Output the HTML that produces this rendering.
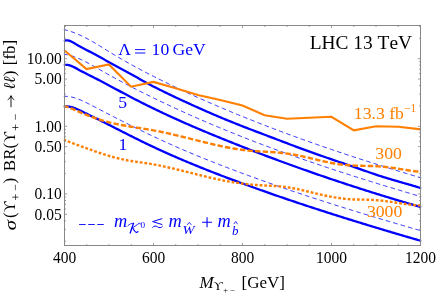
<!DOCTYPE html>
<html><head><meta charset="utf-8"><title>plot</title>
<style>html,body{margin:0;padding:0;background:#fff;}body{width:436px;height:294px;position:relative;overflow:hidden;font-family:"Liberation Serif",serif;}</style>
</head><body>
<svg width="436" height="294" viewBox="0 0 436 294" style="position:absolute;left:0;top:0;will-change:transform">
<rect width="436" height="294" fill="#fff"/>
<defs><clipPath id="c"><rect x="63.7" y="25.0" width="357.6" height="221.0"/></clipPath></defs>
<g clip-path="url(#c)" fill="none" stroke-linejoin="round">
<path d="M63.40,29.50 L64.78,29.79 L66.17,30.12 L67.55,30.48 L68.93,30.88 L70.32,31.31 L71.70,31.77 L73.08,32.27 L74.46,32.79 L75.85,33.34 L77.23,33.91 L78.61,34.51 L80.00,35.13 L81.38,35.78 L82.76,36.45 L84.15,37.14 L85.53,37.85 L86.91,38.57 L88.29,39.32 L89.68,40.08 L91.06,40.85 L92.44,41.64 L93.83,42.44 L95.21,43.25 L96.59,44.06 L97.98,44.89 L99.36,45.73 L100.74,46.57 L102.12,47.41 L103.51,48.26 L104.89,49.11 L106.27,49.97 L107.66,50.82 L109.04,51.67 L110.42,52.52 L111.81,53.37 L113.19,54.21 L114.57,55.04 L115.95,55.87 L117.34,56.69 L118.72,57.51 L120.10,58.31 L121.49,59.12 L122.87,59.91 L124.25,60.70 L125.64,61.49 L127.02,62.27 L128.40,63.04 L129.78,63.81 L131.17,64.58 L132.55,65.34 L133.93,66.09 L135.32,66.84 L136.70,67.59 L138.08,68.33 L139.47,69.06 L140.85,69.80 L142.23,70.53 L143.61,71.25 L145.00,71.98 L146.38,72.69 L147.76,73.41 L149.15,74.12 L150.53,74.83 L151.91,75.54 L153.30,76.24 L154.68,76.95 L156.06,77.64 L157.44,78.34 L158.83,79.03 L160.21,79.72 L161.59,80.41 L162.98,81.10 L164.36,81.78 L165.74,82.46 L167.13,83.13 L168.51,83.81 L169.89,84.48 L171.27,85.15 L172.66,85.81 L174.04,86.48 L175.42,87.14 L176.81,87.80 L178.19,88.45 L179.57,89.11 L180.96,89.76 L182.34,90.40 L183.72,91.05 L185.11,91.69 L186.49,92.34 L187.87,92.97 L189.25,93.61 L190.64,94.24 L192.02,94.88 L193.40,95.51 L194.79,96.13 L196.17,96.76 L197.55,97.38 L198.94,98.00 L200.32,98.62 L201.70,99.23 L203.08,99.85 L204.47,100.46 L205.85,101.07 L207.23,101.68 L208.62,102.28 L210.00,102.89 L211.38,103.49 L212.77,104.09 L214.15,104.68 L215.53,105.28 L216.91,105.87 L218.30,106.46 L219.68,107.05 L221.06,107.64 L222.45,108.23 L223.83,108.81 L225.21,109.39 L226.60,109.97 L227.98,110.55 L229.36,111.13 L230.74,111.70 L232.13,112.27 L233.51,112.85 L234.89,113.41 L236.28,113.98 L237.66,114.55 L239.04,115.11 L240.43,115.68 L241.81,116.24 L243.19,116.80 L244.57,117.36 L245.96,117.91 L247.34,118.47 L248.72,119.02 L250.11,119.57 L251.49,120.12 L252.87,120.67 L254.26,121.22 L255.64,121.76 L257.02,122.31 L258.40,122.85 L259.79,123.39 L261.17,123.93 L262.55,124.47 L263.94,125.00 L265.32,125.54 L266.70,126.07 L268.09,126.60 L269.47,127.13 L270.85,127.66 L272.23,128.19 L273.62,128.72 L275.00,129.24 L276.38,129.76 L277.77,130.29 L279.15,130.81 L280.53,131.33 L281.92,131.84 L283.30,132.36 L284.68,132.87 L286.06,133.39 L287.45,133.90 L288.83,134.41 L290.21,134.92 L291.60,135.43 L292.98,135.93 L294.36,136.44 L295.75,136.94 L297.13,137.44 L298.51,137.94 L299.89,138.44 L301.28,138.94 L302.66,139.44 L304.04,139.93 L305.43,140.43 L306.81,140.92 L308.19,141.41 L309.58,141.90 L310.96,142.39 L312.34,142.88 L313.73,143.37 L315.11,143.85 L316.49,144.34 L317.87,144.82 L319.26,145.30 L320.64,145.78 L322.02,146.26 L323.41,146.74 L324.79,147.22 L326.17,147.69 L327.56,148.17 L328.94,148.64 L330.32,149.11 L331.70,149.58 L333.09,150.05 L334.47,150.52 L335.85,150.99 L337.24,151.46 L338.62,151.92 L340.00,152.39 L341.39,152.85 L342.77,153.31 L344.15,153.77 L345.53,154.23 L346.92,154.69 L348.30,155.15 L349.68,155.61 L351.07,156.06 L352.45,156.51 L353.83,156.97 L355.22,157.42 L356.60,157.87 L357.98,158.32 L359.36,158.77 L360.75,159.22 L362.13,159.67 L363.51,160.11 L364.90,160.56 L366.28,161.00 L367.66,161.44 L369.05,161.89 L370.43,162.33 L371.81,162.77 L373.19,163.21 L374.58,163.64 L375.96,164.08 L377.34,164.52 L378.73,164.95 L380.11,165.39 L381.49,165.82 L382.88,166.25 L384.26,166.69 L385.64,167.12 L387.02,167.55 L388.41,167.98 L389.79,168.40 L391.17,168.83 L392.56,169.26 L393.94,169.68 L395.32,170.11 L396.71,170.53 L398.09,170.95 L399.47,171.38 L400.85,171.80 L402.24,172.22 L403.62,172.64 L405.00,173.06 L406.39,173.48 L407.77,173.89 L409.15,174.31 L410.54,174.72 L411.92,175.14 L413.30,175.55 L414.68,175.97 L416.07,176.38 L417.45,176.79 L418.83,177.20 L420.22,177.61 L421.60,178.02" stroke="#0000ff" stroke-width="0.8" stroke-dasharray="4.6 3.1"/>
<path d="M63.40,54.10 L64.78,54.29 L66.17,54.53 L67.55,54.82 L68.93,55.15 L70.32,55.52 L71.70,55.93 L73.08,56.38 L74.46,56.87 L75.85,57.39 L77.23,57.94 L78.61,58.52 L80.00,59.12 L81.38,59.76 L82.76,60.42 L84.15,61.09 L85.53,61.79 L86.91,62.51 L88.29,63.24 L89.68,63.98 L91.06,64.74 L92.44,65.50 L93.83,66.27 L95.21,67.05 L96.59,67.83 L97.98,68.62 L99.36,69.40 L100.74,70.19 L102.12,70.98 L103.51,71.77 L104.89,72.56 L106.27,73.34 L107.66,74.12 L109.04,74.90 L110.42,75.67 L111.81,76.44 L113.19,77.20 L114.57,77.96 L115.95,78.72 L117.34,79.47 L118.72,80.22 L120.10,80.96 L121.49,81.70 L122.87,82.44 L124.25,83.17 L125.64,83.90 L127.02,84.62 L128.40,85.35 L129.78,86.07 L131.17,86.78 L132.55,87.49 L133.93,88.20 L135.32,88.91 L136.70,89.61 L138.08,90.31 L139.47,91.01 L140.85,91.71 L142.23,92.40 L143.61,93.09 L145.00,93.77 L146.38,94.46 L147.76,95.14 L149.15,95.82 L150.53,96.50 L151.91,97.17 L153.30,97.85 L154.68,98.52 L156.06,99.19 L157.44,99.85 L158.83,100.52 L160.21,101.18 L161.59,101.84 L162.98,102.50 L164.36,103.15 L165.74,103.81 L167.13,104.46 L168.51,105.11 L169.89,105.76 L171.27,106.40 L172.66,107.04 L174.04,107.69 L175.42,108.32 L176.81,108.96 L178.19,109.60 L179.57,110.23 L180.96,110.86 L182.34,111.49 L183.72,112.11 L185.11,112.74 L186.49,113.36 L187.87,113.98 L189.25,114.60 L190.64,115.22 L192.02,115.83 L193.40,116.44 L194.79,117.05 L196.17,117.66 L197.55,118.27 L198.94,118.87 L200.32,119.47 L201.70,120.07 L203.08,120.67 L204.47,121.27 L205.85,121.86 L207.23,122.46 L208.62,123.05 L210.00,123.64 L211.38,124.22 L212.77,124.81 L214.15,125.39 L215.53,125.97 L216.91,126.55 L218.30,127.13 L219.68,127.71 L221.06,128.28 L222.45,128.85 L223.83,129.42 L225.21,129.99 L226.60,130.56 L227.98,131.12 L229.36,131.69 L230.74,132.25 L232.13,132.81 L233.51,133.37 L234.89,133.92 L236.28,134.48 L237.66,135.03 L239.04,135.58 L240.43,136.13 L241.81,136.68 L243.19,137.22 L244.57,137.77 L245.96,138.31 L247.34,138.85 L248.72,139.39 L250.11,139.92 L251.49,140.46 L252.87,140.99 L254.26,141.53 L255.64,142.06 L257.02,142.59 L258.40,143.11 L259.79,143.64 L261.17,144.16 L262.55,144.69 L263.94,145.21 L265.32,145.73 L266.70,146.25 L268.09,146.76 L269.47,147.28 L270.85,147.79 L272.23,148.30 L273.62,148.81 L275.00,149.32 L276.38,149.83 L277.77,150.33 L279.15,150.84 L280.53,151.34 L281.92,151.84 L283.30,152.34 L284.68,152.84 L286.06,153.34 L287.45,153.84 L288.83,154.33 L290.21,154.82 L291.60,155.32 L292.98,155.81 L294.36,156.30 L295.75,156.78 L297.13,157.27 L298.51,157.75 L299.89,158.24 L301.28,158.72 L302.66,159.20 L304.04,159.68 L305.43,160.16 L306.81,160.64 L308.19,161.11 L309.58,161.59 L310.96,162.06 L312.34,162.53 L313.73,163.01 L315.11,163.48 L316.49,163.94 L317.87,164.41 L319.26,164.88 L320.64,165.34 L322.02,165.81 L323.41,166.27 L324.79,166.73 L326.17,167.19 L327.56,167.65 L328.94,168.11 L330.32,168.57 L331.70,169.03 L333.09,169.48 L334.47,169.94 L335.85,170.39 L337.24,170.84 L338.62,171.29 L340.00,171.74 L341.39,172.19 L342.77,172.64 L344.15,173.09 L345.53,173.53 L346.92,173.98 L348.30,174.42 L349.68,174.86 L351.07,175.31 L352.45,175.75 L353.83,176.19 L355.22,176.63 L356.60,177.07 L357.98,177.50 L359.36,177.94 L360.75,178.38 L362.13,178.81 L363.51,179.24 L364.90,179.68 L366.28,180.11 L367.66,180.54 L369.05,180.97 L370.43,181.40 L371.81,181.83 L373.19,182.26 L374.58,182.69 L375.96,183.11 L377.34,183.54 L378.73,183.96 L380.11,184.39 L381.49,184.81 L382.88,185.24 L384.26,185.66 L385.64,186.08 L387.02,186.50 L388.41,186.92 L389.79,187.34 L391.17,187.76 L392.56,188.18 L393.94,188.60 L395.32,189.01 L396.71,189.43 L398.09,189.84 L399.47,190.26 L400.85,190.67 L402.24,191.09 L403.62,191.50 L405.00,191.91 L406.39,192.33 L407.77,192.74 L409.15,193.15 L410.54,193.56 L411.92,193.97 L413.30,194.38 L414.68,194.79 L416.07,195.20 L417.45,195.61 L418.83,196.01 L420.22,196.42 L421.60,196.83" stroke="#0000ff" stroke-width="0.8" stroke-dasharray="4.6 3.1"/>
<path d="M63.40,96.45 L64.78,96.36 L66.17,96.35 L67.55,96.42 L68.93,96.56 L70.32,96.77 L71.70,97.05 L73.08,97.39 L74.46,97.78 L75.85,98.22 L77.23,98.71 L78.61,99.24 L80.00,99.80 L81.38,100.39 L82.76,101.00 L84.15,101.64 L85.53,102.29 L86.91,102.97 L88.29,103.65 L89.68,104.35 L91.06,105.06 L92.44,105.77 L93.83,106.49 L95.21,107.21 L96.59,107.93 L97.98,108.65 L99.36,109.37 L100.74,110.09 L102.12,110.81 L103.51,111.52 L104.89,112.24 L106.27,112.96 L107.66,113.67 L109.04,114.39 L110.42,115.10 L111.81,115.81 L113.19,116.52 L114.57,117.23 L115.95,117.94 L117.34,118.65 L118.72,119.35 L120.10,120.06 L121.49,120.76 L122.87,121.46 L124.25,122.16 L125.64,122.86 L127.02,123.56 L128.40,124.25 L129.78,124.94 L131.17,125.63 L132.55,126.32 L133.93,127.01 L135.32,127.69 L136.70,128.38 L138.08,129.06 L139.47,129.74 L140.85,130.41 L142.23,131.09 L143.61,131.76 L145.00,132.43 L146.38,133.09 L147.76,133.76 L149.15,134.42 L150.53,135.08 L151.91,135.73 L153.30,136.39 L154.68,137.04 L156.06,137.68 L157.44,138.33 L158.83,138.97 L160.21,139.61 L161.59,140.25 L162.98,140.88 L164.36,141.51 L165.74,142.14 L167.13,142.76 L168.51,143.39 L169.89,144.01 L171.27,144.62 L172.66,145.24 L174.04,145.85 L175.42,146.46 L176.81,147.06 L178.19,147.67 L179.57,148.27 L180.96,148.87 L182.34,149.46 L183.72,150.06 L185.11,150.65 L186.49,151.24 L187.87,151.82 L189.25,152.41 L190.64,152.99 L192.02,153.57 L193.40,154.15 L194.79,154.72 L196.17,155.29 L197.55,155.86 L198.94,156.43 L200.32,157.00 L201.70,157.56 L203.08,158.12 L204.47,158.68 L205.85,159.24 L207.23,159.80 L208.62,160.35 L210.00,160.90 L211.38,161.45 L212.77,162.00 L214.15,162.55 L215.53,163.09 L216.91,163.64 L218.30,164.18 L219.68,164.72 L221.06,165.25 L222.45,165.79 L223.83,166.32 L225.21,166.86 L226.60,167.39 L227.98,167.92 L229.36,168.44 L230.74,168.97 L232.13,169.49 L233.51,170.02 L234.89,170.54 L236.28,171.06 L237.66,171.58 L239.04,172.09 L240.43,172.61 L241.81,173.12 L243.19,173.64 L244.57,174.15 L245.96,174.66 L247.34,175.17 L248.72,175.67 L250.11,176.18 L251.49,176.68 L252.87,177.19 L254.26,177.69 L255.64,178.19 L257.02,178.69 L258.40,179.19 L259.79,179.69 L261.17,180.18 L262.55,180.68 L263.94,181.17 L265.32,181.66 L266.70,182.15 L268.09,182.64 L269.47,183.13 L270.85,183.61 L272.23,184.10 L273.62,184.58 L275.00,185.07 L276.38,185.55 L277.77,186.03 L279.15,186.51 L280.53,186.99 L281.92,187.46 L283.30,187.94 L284.68,188.41 L286.06,188.89 L287.45,189.36 L288.83,189.83 L290.21,190.30 L291.60,190.77 L292.98,191.24 L294.36,191.71 L295.75,192.17 L297.13,192.64 L298.51,193.10 L299.89,193.56 L301.28,194.02 L302.66,194.48 L304.04,194.94 L305.43,195.40 L306.81,195.86 L308.19,196.31 L309.58,196.77 L310.96,197.22 L312.34,197.68 L313.73,198.13 L315.11,198.58 L316.49,199.03 L317.87,199.48 L319.26,199.92 L320.64,200.37 L322.02,200.82 L323.41,201.26 L324.79,201.71 L326.17,202.15 L327.56,202.59 L328.94,203.03 L330.32,203.47 L331.70,203.91 L333.09,204.35 L334.47,204.79 L335.85,205.23 L337.24,205.66 L338.62,206.10 L340.00,206.53 L341.39,206.97 L342.77,207.40 L344.15,207.83 L345.53,208.26 L346.92,208.69 L348.30,209.12 L349.68,209.55 L351.07,209.98 L352.45,210.40 L353.83,210.83 L355.22,211.26 L356.60,211.68 L357.98,212.10 L359.36,212.53 L360.75,212.95 L362.13,213.37 L363.51,213.79 L364.90,214.21 L366.28,214.63 L367.66,215.05 L369.05,215.47 L370.43,215.88 L371.81,216.30 L373.19,216.72 L374.58,217.13 L375.96,217.55 L377.34,217.96 L378.73,218.37 L380.11,218.79 L381.49,219.20 L382.88,219.61 L384.26,220.02 L385.64,220.43 L387.02,220.84 L388.41,221.25 L389.79,221.66 L391.17,222.06 L392.56,222.47 L393.94,222.88 L395.32,223.28 L396.71,223.69 L398.09,224.09 L399.47,224.50 L400.85,224.90 L402.24,225.31 L403.62,225.71 L405.00,226.11 L406.39,226.51 L407.77,226.91 L409.15,227.31 L410.54,227.71 L411.92,228.11 L413.30,228.51 L414.68,228.91 L416.07,229.31 L417.45,229.71 L418.83,230.11 L420.22,230.50 L421.60,230.90" stroke="#0000ff" stroke-width="0.8" stroke-dasharray="4.6 3.1"/>
<path d="M63.40,40.99 L64.78,40.52 L66.17,40.34 L67.55,40.40 L68.93,40.68 L70.32,41.15 L71.70,41.76 L73.08,42.48 L74.46,43.28 L75.85,44.12 L77.23,44.98 L78.61,45.82 L80.00,46.61 L81.38,47.36 L82.76,48.08 L84.15,48.79 L85.53,49.50 L86.91,50.20 L88.29,50.90 L89.68,51.60 L91.06,52.30 L92.44,53.00 L93.83,53.71 L95.21,54.43 L96.59,55.16 L97.98,55.90 L99.36,56.66 L100.74,57.45 L102.12,58.25 L103.51,59.06 L104.89,59.87 L106.27,60.67 L107.66,61.46 L109.04,62.23 L110.42,63.00 L111.81,63.76 L113.19,64.51 L114.57,65.25 L115.95,66.00 L117.34,66.73 L118.72,67.47 L120.10,68.21 L121.49,68.94 L122.87,69.68 L124.25,70.43 L125.64,71.17 L127.02,71.93 L128.40,72.69 L129.78,73.46 L131.17,74.23 L132.55,75.00 L133.93,75.78 L135.32,76.56 L136.70,77.33 L138.08,78.11 L139.47,78.89 L140.85,79.67 L142.23,80.44 L143.61,81.21 L145.00,81.97 L146.38,82.73 L147.76,83.48 L149.15,84.23 L150.53,84.96 L151.91,85.69 L153.30,86.41 L154.68,87.12 L156.06,87.83 L157.44,88.53 L158.83,89.22 L160.21,89.91 L161.59,90.59 L162.98,91.28 L164.36,91.95 L165.74,92.63 L167.13,93.30 L168.51,93.97 L169.89,94.63 L171.27,95.30 L172.66,95.95 L174.04,96.61 L175.42,97.26 L176.81,97.92 L178.19,98.56 L179.57,99.21 L180.96,99.85 L182.34,100.50 L183.72,101.14 L185.11,101.77 L186.49,102.41 L187.87,103.04 L189.25,103.67 L190.64,104.30 L192.02,104.93 L193.40,105.56 L194.79,106.18 L196.17,106.80 L197.55,107.42 L198.94,108.04 L200.32,108.66 L201.70,109.27 L203.08,109.88 L204.47,110.49 L205.85,111.10 L207.23,111.70 L208.62,112.30 L210.00,112.90 L211.38,113.50 L212.77,114.10 L214.15,114.69 L215.53,115.28 L216.91,115.87 L218.30,116.45 L219.68,117.04 L221.06,117.62 L222.45,118.20 L223.83,118.77 L225.21,119.35 L226.60,119.92 L227.98,120.49 L229.36,121.05 L230.74,121.62 L232.13,122.18 L233.51,122.74 L234.89,123.29 L236.28,123.85 L237.66,124.40 L239.04,124.94 L240.43,125.49 L241.81,126.03 L243.19,126.57 L244.57,127.11 L245.96,127.64 L247.34,128.18 L248.72,128.71 L250.11,129.24 L251.49,129.76 L252.87,130.29 L254.26,130.82 L255.64,131.34 L257.02,131.87 L258.40,132.39 L259.79,132.91 L261.17,133.43 L262.55,133.96 L263.94,134.48 L265.32,135.00 L266.70,135.53 L268.09,136.05 L269.47,136.58 L270.85,137.10 L272.23,137.63 L273.62,138.16 L275.00,138.69 L276.38,139.21 L277.77,139.74 L279.15,140.27 L280.53,140.80 L281.92,141.33 L283.30,141.86 L284.68,142.39 L286.06,142.91 L287.45,143.44 L288.83,143.96 L290.21,144.48 L291.60,145.00 L292.98,145.52 L294.36,146.03 L295.75,146.55 L297.13,147.06 L298.51,147.57 L299.89,148.08 L301.28,148.59 L302.66,149.10 L304.04,149.61 L305.43,150.11 L306.81,150.61 L308.19,151.11 L309.58,151.61 L310.96,152.11 L312.34,152.61 L313.73,153.10 L315.11,153.60 L316.49,154.09 L317.87,154.58 L319.26,155.07 L320.64,155.55 L322.02,156.04 L323.41,156.52 L324.79,157.01 L326.17,157.49 L327.56,157.97 L328.94,158.45 L330.32,158.92 L331.70,159.40 L333.09,159.87 L334.47,160.34 L335.85,160.81 L337.24,161.28 L338.62,161.75 L340.00,162.22 L341.39,162.69 L342.77,163.16 L344.15,163.63 L345.53,164.10 L346.92,164.57 L348.30,165.04 L349.68,165.51 L351.07,165.98 L352.45,166.46 L353.83,166.93 L355.22,167.41 L356.60,167.89 L357.98,168.37 L359.36,168.85 L360.75,169.33 L362.13,169.82 L363.51,170.31 L364.90,170.80 L366.28,171.29 L367.66,171.77 L369.05,172.26 L370.43,172.75 L371.81,173.23 L373.19,173.70 L374.58,174.17 L375.96,174.63 L377.34,175.09 L378.73,175.54 L380.11,175.99 L381.49,176.43 L382.88,176.86 L384.26,177.29 L385.64,177.71 L387.02,178.13 L388.41,178.55 L389.79,178.96 L391.17,179.37 L392.56,179.78 L393.94,180.18 L395.32,180.58 L396.71,180.98 L398.09,181.38 L399.47,181.78 L400.85,182.18 L402.24,182.58 L403.62,182.98 L405.00,183.37 L406.39,183.77 L407.77,184.18 L409.15,184.58 L410.54,184.98 L411.92,185.39 L413.30,185.80 L414.68,186.22 L416.07,186.63 L417.45,187.05 L418.83,187.48 L420.22,187.91 L421.60,188.35" stroke="#0000ff" stroke-width="2.3"/>
<path d="M63.40,65.14 L64.78,64.86 L66.17,64.78 L67.55,64.89 L68.93,65.15 L70.32,65.56 L71.70,66.08 L73.08,66.70 L74.46,67.38 L75.85,68.12 L77.23,68.88 L78.61,69.65 L80.00,70.41 L81.38,71.15 L82.76,71.88 L84.15,72.60 L85.53,73.31 L86.91,74.01 L88.29,74.71 L89.68,75.41 L91.06,76.10 L92.44,76.80 L93.83,77.50 L95.21,78.20 L96.59,78.90 L97.98,79.61 L99.36,80.33 L100.74,81.05 L102.12,81.77 L103.51,82.50 L104.89,83.23 L106.27,83.96 L107.66,84.70 L109.04,85.44 L110.42,86.18 L111.81,86.92 L113.19,87.66 L114.57,88.40 L115.95,89.15 L117.34,89.89 L118.72,90.63 L120.10,91.37 L121.49,92.12 L122.87,92.86 L124.25,93.60 L125.64,94.33 L127.02,95.07 L128.40,95.80 L129.78,96.53 L131.17,97.26 L132.55,97.98 L133.93,98.70 L135.32,99.41 L136.70,100.12 L138.08,100.83 L139.47,101.54 L140.85,102.24 L142.23,102.94 L143.61,103.63 L145.00,104.32 L146.38,105.01 L147.76,105.69 L149.15,106.38 L150.53,107.05 L151.91,107.73 L153.30,108.40 L154.68,109.07 L156.06,109.74 L157.44,110.40 L158.83,111.06 L160.21,111.72 L161.59,112.37 L162.98,113.02 L164.36,113.67 L165.74,114.32 L167.13,114.96 L168.51,115.60 L169.89,116.24 L171.27,116.87 L172.66,117.50 L174.04,118.13 L175.42,118.76 L176.81,119.38 L178.19,120.01 L179.57,120.63 L180.96,121.24 L182.34,121.86 L183.72,122.47 L185.11,123.08 L186.49,123.69 L187.87,124.29 L189.25,124.90 L190.64,125.50 L192.02,126.10 L193.40,126.69 L194.79,127.29 L196.17,127.88 L197.55,128.47 L198.94,129.06 L200.32,129.65 L201.70,130.23 L203.08,130.82 L204.47,131.40 L205.85,131.98 L207.23,132.56 L208.62,133.13 L210.00,133.71 L211.38,134.28 L212.77,134.85 L214.15,135.42 L215.53,135.99 L216.91,136.55 L218.30,137.12 L219.68,137.68 L221.06,138.24 L222.45,138.81 L223.83,139.36 L225.21,139.92 L226.60,140.48 L227.98,141.04 L229.36,141.59 L230.74,142.14 L232.13,142.69 L233.51,143.24 L234.89,143.79 L236.28,144.34 L237.66,144.89 L239.04,145.43 L240.43,145.98 L241.81,146.52 L243.19,147.06 L244.57,147.60 L245.96,148.14 L247.34,148.68 L248.72,149.22 L250.11,149.75 L251.49,150.29 L252.87,150.82 L254.26,151.35 L255.64,151.88 L257.02,152.41 L258.40,152.94 L259.79,153.47 L261.17,154.00 L262.55,154.52 L263.94,155.04 L265.32,155.57 L266.70,156.09 L268.09,156.61 L269.47,157.13 L270.85,157.64 L272.23,158.16 L273.62,158.68 L275.00,159.19 L276.38,159.70 L277.77,160.21 L279.15,160.72 L280.53,161.23 L281.92,161.74 L283.30,162.25 L284.68,162.75 L286.06,163.26 L287.45,163.76 L288.83,164.26 L290.21,164.77 L291.60,165.26 L292.98,165.76 L294.36,166.26 L295.75,166.76 L297.13,167.25 L298.51,167.75 L299.89,168.24 L301.28,168.73 L302.66,169.22 L304.04,169.71 L305.43,170.20 L306.81,170.69 L308.19,171.17 L309.58,171.66 L310.96,172.14 L312.34,172.62 L313.73,173.10 L315.11,173.58 L316.49,174.06 L317.87,174.54 L319.26,175.02 L320.64,175.49 L322.02,175.97 L323.41,176.44 L324.79,176.91 L326.17,177.38 L327.56,177.85 L328.94,178.32 L330.32,178.79 L331.70,179.26 L333.09,179.72 L334.47,180.19 L335.85,180.65 L337.24,181.11 L338.62,181.57 L340.00,182.03 L341.39,182.49 L342.77,182.95 L344.15,183.41 L345.53,183.86 L346.92,184.32 L348.30,184.77 L349.68,185.22 L351.07,185.67 L352.45,186.12 L353.83,186.57 L355.22,187.02 L356.60,187.46 L357.98,187.91 L359.36,188.35 L360.75,188.80 L362.13,189.24 L363.51,189.68 L364.90,190.12 L366.28,190.56 L367.66,191.00 L369.05,191.44 L370.43,191.87 L371.81,192.31 L373.19,192.74 L374.58,193.17 L375.96,193.60 L377.34,194.03 L378.73,194.46 L380.11,194.89 L381.49,195.32 L382.88,195.75 L384.26,196.17 L385.64,196.60 L387.02,197.02 L388.41,197.44 L389.79,197.86 L391.17,198.28 L392.56,198.70 L393.94,199.12 L395.32,199.54 L396.71,199.95 L398.09,200.37 L399.47,200.78 L400.85,201.19 L402.24,201.60 L403.62,202.01 L405.00,202.42 L406.39,202.83 L407.77,203.24 L409.15,203.65 L410.54,204.05 L411.92,204.46 L413.30,204.86 L414.68,205.26 L416.07,205.66 L417.45,206.06 L418.83,206.46 L420.22,206.86 L421.60,207.26" stroke="#0000ff" stroke-width="2.3"/>
<path d="M63.40,106.90 L64.78,106.58 L66.17,106.42 L67.55,106.41 L68.93,106.54 L70.32,106.78 L71.70,107.12 L73.08,107.55 L74.46,108.05 L75.85,108.60 L77.23,109.20 L78.61,109.82 L80.00,110.48 L81.38,111.15 L82.76,111.83 L84.15,112.52 L85.53,113.21 L86.91,113.89 L88.29,114.57 L89.68,115.25 L91.06,115.93 L92.44,116.61 L93.83,117.29 L95.21,117.97 L96.59,118.65 L97.98,119.33 L99.36,120.02 L100.74,120.70 L102.12,121.39 L103.51,122.09 L104.89,122.78 L106.27,123.48 L107.66,124.18 L109.04,124.88 L110.42,125.58 L111.81,126.28 L113.19,126.99 L114.57,127.69 L115.95,128.40 L117.34,129.10 L118.72,129.81 L120.10,130.51 L121.49,131.22 L122.87,131.93 L124.25,132.63 L125.64,133.33 L127.02,134.04 L128.40,134.74 L129.78,135.44 L131.17,136.14 L132.55,136.83 L133.93,137.53 L135.32,138.22 L136.70,138.90 L138.08,139.59 L139.47,140.27 L140.85,140.95 L142.23,141.63 L143.61,142.30 L145.00,142.97 L146.38,143.63 L147.76,144.30 L149.15,144.95 L150.53,145.61 L151.91,146.26 L153.30,146.91 L154.68,147.56 L156.06,148.20 L157.44,148.84 L158.83,149.48 L160.21,150.11 L161.59,150.74 L162.98,151.37 L164.36,152.00 L165.74,152.62 L167.13,153.24 L168.51,153.85 L169.89,154.47 L171.27,155.08 L172.66,155.69 L174.04,156.29 L175.42,156.89 L176.81,157.49 L178.19,158.09 L179.57,158.69 L180.96,159.28 L182.34,159.87 L183.72,160.45 L185.11,161.04 L186.49,161.62 L187.87,162.20 L189.25,162.78 L190.64,163.35 L192.02,163.92 L193.40,164.49 L194.79,165.06 L196.17,165.63 L197.55,166.19 L198.94,166.75 L200.32,167.31 L201.70,167.87 L203.08,168.42 L204.47,168.98 L205.85,169.53 L207.23,170.08 L208.62,170.62 L210.00,171.17 L211.38,171.71 L212.77,172.25 L214.15,172.79 L215.53,173.33 L216.91,173.86 L218.30,174.40 L219.68,174.93 L221.06,175.46 L222.45,175.99 L223.83,176.51 L225.21,177.04 L226.60,177.56 L227.98,178.08 L229.36,178.61 L230.74,179.12 L232.13,179.64 L233.51,180.16 L234.89,180.67 L236.28,181.19 L237.66,181.70 L239.04,182.21 L240.43,182.72 L241.81,183.23 L243.19,183.73 L244.57,184.24 L245.96,184.74 L247.34,185.25 L248.72,185.75 L250.11,186.25 L251.49,186.75 L252.87,187.25 L254.26,187.74 L255.64,188.24 L257.02,188.73 L258.40,189.23 L259.79,189.72 L261.17,190.21 L262.55,190.70 L263.94,191.19 L265.32,191.68 L266.70,192.16 L268.09,192.65 L269.47,193.13 L270.85,193.62 L272.23,194.10 L273.62,194.58 L275.00,195.06 L276.38,195.54 L277.77,196.02 L279.15,196.49 L280.53,196.97 L281.92,197.44 L283.30,197.92 L284.68,198.39 L286.06,198.86 L287.45,199.33 L288.83,199.80 L290.21,200.27 L291.60,200.73 L292.98,201.20 L294.36,201.67 L295.75,202.13 L297.13,202.59 L298.51,203.06 L299.89,203.52 L301.28,203.98 L302.66,204.44 L304.04,204.89 L305.43,205.35 L306.81,205.81 L308.19,206.26 L309.58,206.72 L310.96,207.17 L312.34,207.62 L313.73,208.08 L315.11,208.53 L316.49,208.98 L317.87,209.43 L319.26,209.87 L320.64,210.32 L322.02,210.77 L323.41,211.21 L324.79,211.66 L326.17,212.10 L327.56,212.55 L328.94,212.99 L330.32,213.43 L331.70,213.87 L333.09,214.31 L334.47,214.75 L335.85,215.19 L337.24,215.62 L338.62,216.06 L340.00,216.50 L341.39,216.93 L342.77,217.37 L344.15,217.80 L345.53,218.23 L346.92,218.66 L348.30,219.09 L349.68,219.53 L351.07,219.96 L352.45,220.38 L353.83,220.81 L355.22,221.24 L356.60,221.67 L357.98,222.09 L359.36,222.52 L360.75,222.94 L362.13,223.37 L363.51,223.79 L364.90,224.22 L366.28,224.64 L367.66,225.06 L369.05,225.48 L370.43,225.90 L371.81,226.32 L373.19,226.74 L374.58,227.16 L375.96,227.58 L377.34,227.99 L378.73,228.41 L380.11,228.83 L381.49,229.24 L382.88,229.66 L384.26,230.07 L385.64,230.49 L387.02,230.90 L388.41,231.31 L389.79,231.72 L391.17,232.14 L392.56,232.55 L393.94,232.96 L395.32,233.37 L396.71,233.78 L398.09,234.19 L399.47,234.60 L400.85,235.00 L402.24,235.41 L403.62,235.82 L405.00,236.23 L406.39,236.63 L407.77,237.04 L409.15,237.44 L410.54,237.85 L411.92,238.25 L413.30,238.66 L414.68,239.06 L416.07,239.47 L417.45,239.87 L418.83,240.27 L420.22,240.67 L421.60,241.08" stroke="#0000ff" stroke-width="2.3"/>
<path d="M64.00,50.00 L86.50,69.00 L108.90,64.40 L131.10,86.70 L153.40,81.90 L175.70,88.30 L197.90,95.00 L220.20,100.00 L242.50,105.60 L264.60,115.30 L287.00,118.80 L309.30,117.80 L331.40,116.80 L353.90,130.30 L376.10,126.20 L398.40,126.80 L421.00,129.40" stroke="#ff8000" stroke-width="2.1" stroke-linejoin="miter"/>
<path d="M63.40,105.68 L64.78,106.11 L66.17,106.57 L67.55,107.05 L68.93,107.56 L70.32,108.10 L71.70,108.65 L73.08,109.22 L74.46,109.80 L75.85,110.39 L77.23,110.99 L78.61,111.59 L80.00,112.19 L81.38,112.79 L82.76,113.38 L84.15,113.97 L85.53,114.54 L86.91,115.09 L88.29,115.64 L89.68,116.17 L91.06,116.69 L92.44,117.20 L93.83,117.70 L95.21,118.18 L96.59,118.65 L97.98,119.10 L99.36,119.55 L100.74,119.98 L102.12,120.40 L103.51,120.80 L104.89,121.19 L106.27,121.57 L107.66,121.93 L109.04,122.29 L110.42,122.63 L111.81,122.96 L113.19,123.28 L114.57,123.59 L115.95,123.89 L117.34,124.18 L118.72,124.46 L120.10,124.73 L121.49,125.00 L122.87,125.26 L124.25,125.51 L125.64,125.76 L127.02,126.00 L128.40,126.24 L129.78,126.47 L131.17,126.70 L132.55,126.93 L133.93,127.16 L135.32,127.38 L136.70,127.60 L138.08,127.82 L139.47,128.04 L140.85,128.26 L142.23,128.48 L143.61,128.70 L145.00,128.93 L146.38,129.16 L147.76,129.39 L149.15,129.62 L150.53,129.86 L151.91,130.10 L153.30,130.35 L154.68,130.60 L156.06,130.86 L157.44,131.12 L158.83,131.39 L160.21,131.67 L161.59,131.96 L162.98,132.24 L164.36,132.54 L165.74,132.84 L167.13,133.14 L168.51,133.45 L169.89,133.76 L171.27,134.08 L172.66,134.40 L174.04,134.72 L175.42,135.05 L176.81,135.38 L178.19,135.71 L179.57,136.05 L180.96,136.39 L182.34,136.73 L183.72,137.07 L185.11,137.41 L186.49,137.76 L187.87,138.10 L189.25,138.45 L190.64,138.80 L192.02,139.15 L193.40,139.49 L194.79,139.84 L196.17,140.19 L197.55,140.54 L198.94,140.88 L200.32,141.23 L201.70,141.57 L203.08,141.91 L204.47,142.25 L205.85,142.59 L207.23,142.92 L208.62,143.26 L210.00,143.58 L211.38,143.91 L212.77,144.23 L214.15,144.55 L215.53,144.87 L216.91,145.18 L218.30,145.49 L219.68,145.79 L221.06,146.09 L222.45,146.38 L223.83,146.67 L225.21,146.95 L226.60,147.22 L227.98,147.49 L229.36,147.75 L230.74,148.01 L232.13,148.25 L233.51,148.50 L234.89,148.73 L236.28,148.95 L237.66,149.17 L239.04,149.38 L240.43,149.58 L241.81,149.77 L243.19,149.95 L244.57,150.12 L245.96,150.29 L247.34,150.44 L248.72,150.58 L250.11,150.72 L251.49,150.84 L252.87,150.95 L254.26,151.05 L255.64,151.14 L257.02,151.23 L258.40,151.32 L259.79,151.39 L261.17,151.47 L262.55,151.54 L263.94,151.61 L265.32,151.68 L266.70,151.76 L268.09,151.83 L269.47,151.91 L270.85,151.99 L272.23,152.08 L273.62,152.18 L275.00,152.28 L276.38,152.40 L277.77,152.52 L279.15,152.65 L280.53,152.79 L281.92,152.95 L283.30,153.11 L284.68,153.28 L286.06,153.46 L287.45,153.65 L288.83,153.85 L290.21,154.06 L291.60,154.29 L292.98,154.52 L294.36,154.76 L295.75,155.02 L297.13,155.28 L298.51,155.55 L299.89,155.84 L301.28,156.13 L302.66,156.43 L304.04,156.73 L305.43,157.05 L306.81,157.36 L308.19,157.68 L309.58,158.01 L310.96,158.34 L312.34,158.67 L313.73,159.00 L315.11,159.33 L316.49,159.66 L317.87,159.99 L319.26,160.32 L320.64,160.65 L322.02,160.97 L323.41,161.29 L324.79,161.60 L326.17,161.90 L327.56,162.20 L328.94,162.49 L330.32,162.77 L331.70,163.04 L333.09,163.30 L334.47,163.55 L335.85,163.78 L337.24,164.00 L338.62,164.21 L340.00,164.40 L341.39,164.58 L342.77,164.74 L344.15,164.88 L345.53,165.01 L346.92,165.13 L348.30,165.23 L349.68,165.32 L351.07,165.41 L352.45,165.48 L353.83,165.54 L355.22,165.60 L356.60,165.65 L357.98,165.70 L359.36,165.74 L360.75,165.77 L362.13,165.81 L363.51,165.84 L364.90,165.87 L366.28,165.91 L367.66,165.94 L369.05,165.98 L370.43,166.02 L371.81,166.06 L373.19,166.11 L374.58,166.16 L375.96,166.23 L377.34,166.30 L378.73,166.38 L380.11,166.46 L381.49,166.57 L382.88,166.68 L384.26,166.80 L385.64,166.94 L387.02,167.10 L388.41,167.26 L389.79,167.44 L391.17,167.63 L392.56,167.83 L393.94,168.04 L395.32,168.25 L396.71,168.47 L398.09,168.70 L399.47,168.92 L400.85,169.15 L402.24,169.38 L403.62,169.61 L405.00,169.83 L406.39,170.05 L407.77,170.26 L409.15,170.47 L410.54,170.67 L411.92,170.86 L413.30,171.04 L414.68,171.21 L416.07,171.37 L417.45,171.51 L418.83,171.63 L420.22,171.74 L421.60,171.83" stroke="#ff8000" stroke-width="2.4" stroke-dasharray="5.4 2.2"/>
<path d="M63.40,139.53 L64.78,140.09 L66.17,140.65 L67.55,141.20 L68.93,141.75 L70.32,142.29 L71.70,142.83 L73.08,143.36 L74.46,143.89 L75.85,144.41 L77.23,144.93 L78.61,145.44 L80.00,145.96 L81.38,146.46 L82.76,146.97 L84.15,147.47 L85.53,147.97 L86.91,148.46 L88.29,148.95 L89.68,149.44 L91.06,149.93 L92.44,150.42 L93.83,150.90 L95.21,151.38 L96.59,151.86 L97.98,152.33 L99.36,152.80 L100.74,153.26 L102.12,153.72 L103.51,154.17 L104.89,154.61 L106.27,155.04 L107.66,155.46 L109.04,155.88 L110.42,156.28 L111.81,156.68 L113.19,157.06 L114.57,157.43 L115.95,157.80 L117.34,158.15 L118.72,158.49 L120.10,158.82 L121.49,159.14 L122.87,159.45 L124.25,159.75 L125.64,160.03 L127.02,160.30 L128.40,160.56 L129.78,160.80 L131.17,161.04 L132.55,161.25 L133.93,161.46 L135.32,161.66 L136.70,161.85 L138.08,162.04 L139.47,162.23 L140.85,162.41 L142.23,162.60 L143.61,162.79 L145.00,162.99 L146.38,163.20 L147.76,163.41 L149.15,163.63 L150.53,163.87 L151.91,164.10 L153.30,164.35 L154.68,164.60 L156.06,164.86 L157.44,165.13 L158.83,165.40 L160.21,165.68 L161.59,165.97 L162.98,166.26 L164.36,166.56 L165.74,166.86 L167.13,167.16 L168.51,167.47 L169.89,167.79 L171.27,168.11 L172.66,168.43 L174.04,168.75 L175.42,169.08 L176.81,169.41 L178.19,169.75 L179.57,170.09 L180.96,170.42 L182.34,170.77 L183.72,171.11 L185.11,171.45 L186.49,171.80 L187.87,172.14 L189.25,172.49 L190.64,172.83 L192.02,173.18 L193.40,173.53 L194.79,173.87 L196.17,174.22 L197.55,174.56 L198.94,174.91 L200.32,175.25 L201.70,175.59 L203.08,175.92 L204.47,176.26 L205.85,176.59 L207.23,176.92 L208.62,177.25 L210.00,177.57 L211.38,177.89 L212.77,178.21 L214.15,178.52 L215.53,178.82 L216.91,179.13 L218.30,179.42 L219.68,179.72 L221.06,180.00 L222.45,180.28 L223.83,180.56 L225.21,180.83 L226.60,181.09 L227.98,181.34 L229.36,181.59 L230.74,181.83 L232.13,182.07 L233.51,182.29 L234.89,182.51 L236.28,182.72 L237.66,182.93 L239.04,183.12 L240.43,183.31 L241.81,183.49 L243.19,183.67 L244.57,183.84 L245.96,184.00 L247.34,184.15 L248.72,184.30 L250.11,184.44 L251.49,184.57 L252.87,184.70 L254.26,184.82 L255.64,184.93 L257.02,185.04 L258.40,185.14 L259.79,185.23 L261.17,185.32 L262.55,185.40 L263.94,185.47 L265.32,185.54 L266.70,185.61 L268.09,185.68 L269.47,185.75 L270.85,185.82 L272.23,185.89 L273.62,185.96 L275.00,186.05 L276.38,186.14 L277.77,186.24 L279.15,186.34 L280.53,186.46 L281.92,186.60 L283.30,186.74 L284.68,186.90 L286.06,187.08 L287.45,187.28 L288.83,187.49 L290.21,187.71 L291.60,187.95 L292.98,188.21 L294.36,188.47 L295.75,188.75 L297.13,189.03 L298.51,189.33 L299.89,189.63 L301.28,189.94 L302.66,190.26 L304.04,190.58 L305.43,190.91 L306.81,191.24 L308.19,191.58 L309.58,191.91 L310.96,192.25 L312.34,192.59 L313.73,192.92 L315.11,193.26 L316.49,193.59 L317.87,193.92 L319.26,194.24 L320.64,194.56 L322.02,194.87 L323.41,195.18 L324.79,195.47 L326.17,195.76 L327.56,196.05 L328.94,196.32 L330.32,196.59 L331.70,196.84 L333.09,197.09 L334.47,197.33 L335.85,197.56 L337.24,197.78 L338.62,197.98 L340.00,198.18 L341.39,198.36 L342.77,198.53 L344.15,198.69 L345.53,198.84 L346.92,198.97 L348.30,199.09 L349.68,199.20 L351.07,199.29 L352.45,199.36 L353.83,199.43 L355.22,199.48 L356.60,199.52 L357.98,199.56 L359.36,199.59 L360.75,199.61 L362.13,199.64 L363.51,199.66 L364.90,199.68 L366.28,199.71 L367.66,199.74 L369.05,199.78 L370.43,199.82 L371.81,199.88 L373.19,199.94 L374.58,200.02 L375.96,200.11 L377.34,200.22 L378.73,200.35 L380.11,200.48 L381.49,200.63 L382.88,200.79 L384.26,200.96 L385.64,201.14 L387.02,201.33 L388.41,201.52 L389.79,201.72 L391.17,201.92 L392.56,202.13 L393.94,202.34 L395.32,202.55 L396.71,202.76 L398.09,202.97 L399.47,203.18 L400.85,203.39 L402.24,203.59 L403.62,203.79 L405.00,203.99 L406.39,204.17 L407.77,204.35 L409.15,204.52 L410.54,204.67 L411.92,204.82 L413.30,204.96 L414.68,205.08 L416.07,205.18 L417.45,205.27 L418.83,205.35 L420.22,205.41 L421.60,205.44" stroke="#ff8000" stroke-width="2.4" stroke-dasharray="2.8 1.9"/>
</g>
<g stroke="#888888" stroke-width="1" fill="none">
<rect x="64.5" y="25.5" width="356.0" height="220.0"/>
<path d="M64.50,245.5v-2.6M64.50,25.5v2.6M86.75,245.5v-1.5M86.75,25.5v1.5M109.00,245.5v-1.5M109.00,25.5v1.5M131.25,245.5v-1.5M131.25,25.5v1.5M153.50,245.5v-2.6M153.50,25.5v2.6M175.75,245.5v-1.5M175.75,25.5v1.5M198.00,245.5v-1.5M198.00,25.5v1.5M220.25,245.5v-1.5M220.25,25.5v1.5M242.50,245.5v-2.6M242.50,25.5v2.6M264.75,245.5v-1.5M264.75,25.5v1.5M287.00,245.5v-1.5M287.00,25.5v1.5M309.25,245.5v-1.5M309.25,25.5v1.5M331.50,245.5v-2.6M331.50,25.5v2.6M353.75,245.5v-1.5M353.75,25.5v1.5M376.00,245.5v-1.5M376.00,25.5v1.5M398.25,245.5v-1.5M398.25,25.5v1.5M420.50,245.5v-2.6M420.50,25.5v2.6M64.5,241.24h1.5M420.5,241.24h-1.5M64.5,229.32h1.5M420.5,229.32h-1.5M64.5,220.87h1.5M420.5,220.87h-1.5M64.5,214.31h2.6M420.5,214.31h-2.6M64.5,208.96h1.5M420.5,208.96h-1.5M64.5,204.43h1.5M420.5,204.43h-1.5M64.5,200.51h1.5M420.5,200.51h-1.5M64.5,197.05h1.5M420.5,197.05h-1.5M64.5,193.95h2.6M420.5,193.95h-2.6M64.5,173.59h1.5M420.5,173.59h-1.5M64.5,161.67h1.5M420.5,161.67h-1.5M64.5,153.22h1.5M420.5,153.22h-1.5M64.5,146.66h2.6M420.5,146.66h-2.6M64.5,141.31h1.5M420.5,141.31h-1.5M64.5,136.78h1.5M420.5,136.78h-1.5M64.5,132.86h1.5M420.5,132.86h-1.5M64.5,129.40h1.5M420.5,129.40h-1.5M64.5,126.30h2.6M420.5,126.30h-2.6M64.5,105.94h1.5M420.5,105.94h-1.5M64.5,94.02h1.5M420.5,94.02h-1.5M64.5,85.57h1.5M420.5,85.57h-1.5M64.5,79.01h2.6M420.5,79.01h-2.6M64.5,73.66h1.5M420.5,73.66h-1.5M64.5,69.13h1.5M420.5,69.13h-1.5M64.5,65.21h1.5M420.5,65.21h-1.5M64.5,61.75h1.5M420.5,61.75h-1.5M64.5,58.65h2.6M420.5,58.65h-2.6M64.5,38.29h1.5M420.5,38.29h-1.5M64.5,26.37h1.5M420.5,26.37h-1.5" stroke-width="0.8"/>
</g>
<path d="M79.1,224.5H103.8" stroke="#0000ff" stroke-width="0.9" stroke-dasharray="6.6 2.5" fill="none"/>
<g font-family="Liberation Serif, serif" style="font-kerning:none" font-size="15.5" fill="#000">
<text transform="translate(61.7,64.05) scale(1,1.06)" text-anchor="end">10.00</text>
<text transform="translate(61.7,84.41) scale(1,1.06)" text-anchor="end">5.00</text>
<text transform="translate(61.7,131.70) scale(1,1.06)" text-anchor="end">1.00</text>
<text transform="translate(61.7,152.06) scale(1,1.06)" text-anchor="end">0.50</text>
<text transform="translate(61.7,199.35) scale(1,1.06)" text-anchor="end">0.10</text>
<text transform="translate(61.7,219.71) scale(1,1.06)" text-anchor="end">0.05</text>
<text transform="translate(64.50,262.8) scale(1,1.06)" text-anchor="middle">400</text>
<text transform="translate(153.50,262.8) scale(1,1.06)" text-anchor="middle">600</text>
<text transform="translate(242.50,262.8) scale(1,1.06)" text-anchor="middle">800</text>
<text transform="translate(331.50,262.8) scale(1,1.06)" text-anchor="middle">1000</text>
<text transform="translate(420.50,262.8) scale(1,1.06)" text-anchor="middle">1200</text>
</g>
<text font-family="Liberation Serif, serif" style="font-kerning:none" font-size="19.4" transform="translate(309.7,49.2) scale(1,0.96)" fill="#000">LHC 13 TeV</text>
<g font-family="Liberation Serif, serif" style="font-kerning:none" font-size="17.6" fill="#0000ff">
<text x="118.3" y="55.4">Λ</text>
<path d="M135,49.6H145.3M135,53H145.3" stroke="#0000ff" stroke-width="0.95" fill="none"/>
<text x="151.6" y="55.4">10</text>
<text x="172.6" y="55.4">GeV</text>
<text x="118.2" y="108.2">5</text>
<text x="118.4" y="149.8">1</text>
</g>
<g font-family="Liberation Serif, serif" style="font-kerning:none" font-size="17.7" fill="#ff8000">
<text x="353.8" y="118.7">13.3 fb<tspan font-size="11.5" dy="-6.5">−1</tspan></text>
<text x="375.3" y="159">300</text>
<text x="366.9" y="216.5">3000</text>
</g>
<g font-family="Liberation Serif, serif" style="font-kerning:none" fill="#0000ff">
<text x="114.0" y="227.4" font-size="18.3" font-style="italic">m</text>
<g stroke="#0000ff" fill="none" stroke-linecap="round"><path d="M133.5,223.3 L130.2,233" stroke-width="1.3"/><path d="M133.5,223.3 C131.5,223.2 129.4,224 127.8,225.8" stroke-width="0.8"/><path d="M131.9,228 C134.6,227 137,224.6 139,223.4 C139.8,223 140.4,223.2 140.4,223.9" stroke-width="0.9"/><path d="M132.6,227.7 C133.6,229.6 134.6,231.6 136,232.3 C136.8,232.6 137.4,232.3 137.9,231.6" stroke-width="1.2"/></g>
<text x="140.6" y="227.9" font-size="9.2">0</text>
<path d="M162.3,218.6 L152.6,221.6 L162.3,224.6" stroke="#0000ff" stroke-width="1" fill="none"/>
<path d="M152.4,227.6 C154,225.6 156,225.8 157.6,226.9 C159.2,228 161,228.2 162.6,226.2" stroke="#0000ff" stroke-width="1" fill="none"/>
<text x="168.4" y="227.4" font-size="18.3" font-style="italic">m</text>
<text transform="translate(182.6,234.3) scale(1.18,1)" font-size="12.3" font-style="italic">W</text>
<path d="M187.2,224.9 L189.3,222.3 L191.4,224.9" stroke="#0000ff" stroke-width="0.8" fill="none"/>
<path d="M202.1,222.3H212M207.05,217.3V227.2" stroke="#0000ff" stroke-width="1.1" fill="none"/>
<text x="217.5" y="227.4" font-size="18.3" font-style="italic">m</text>
<text x="232" y="234.6" font-size="13" font-style="italic">b</text>
<path d="M233.8,224.1 L235.7,221.5 L237.6,224.1" stroke="#0000ff" stroke-width="0.8" fill="none"/>
</g>
<g font-family="Liberation Serif, serif" style="font-kerning:none" fill="#000">
<text x="199.6" y="288" font-size="17" font-style="italic">M</text>
<text x="213.2" y="290.4" font-size="13">ϒ</text>
<text x="223.3" y="293.4" font-size="8.7">+</text>
<text x="230.3" y="293.4" font-size="8.7">−</text>
<text x="241.6" y="288" font-size="17">[GeV]</text>
</g>
<g font-family="Liberation Serif, serif" style="font-kerning:none" fill="#000" transform="translate(15.4,231.0) rotate(-90)">
<text transform="translate(0.70,0.6) scale(1.25,1)" font-size="16.5" font-style="italic">σ</text>
<text transform="translate(13.00,0) scale(1,1)" font-size="17">(</text>
<text transform="translate(19.00,0) scale(0.86,1)" font-size="17">ϒ</text>
<text transform="translate(30.40,4.6) scale(1,1)" font-size="12">+</text>
<text transform="translate(40.20,3.6) scale(1,1)" font-size="12">−</text>
<text transform="translate(47.40,0) scale(1,1)" font-size="17">)</text>
<text transform="translate(59.80,0) scale(1,1)" font-size="17">BR(</text>
<text transform="translate(88.50,0) scale(0.86,1)" font-size="17">ϒ</text>
<text transform="translate(100.20,4.6) scale(1,1)" font-size="12">+</text>
<text transform="translate(110.80,3.6) scale(1,1)" font-size="12">−</text>
<text transform="translate(141.40,0) scale(0.92,1)" font-size="17" font-style="italic">ℓℓ</text>
<text transform="translate(154.80,0) scale(1,1)" font-size="17">)</text>
<text transform="translate(165.80,0) scale(1,1)" font-size="17">[fb]</text>
</g>
<path d="M11,107.2V96M7.7,99.8Q10.2,98.6 11,95.6Q11.8,98.6 14.3,99.8" stroke="#000" stroke-width="0.9" fill="none"/>
</svg>
</body></html>
